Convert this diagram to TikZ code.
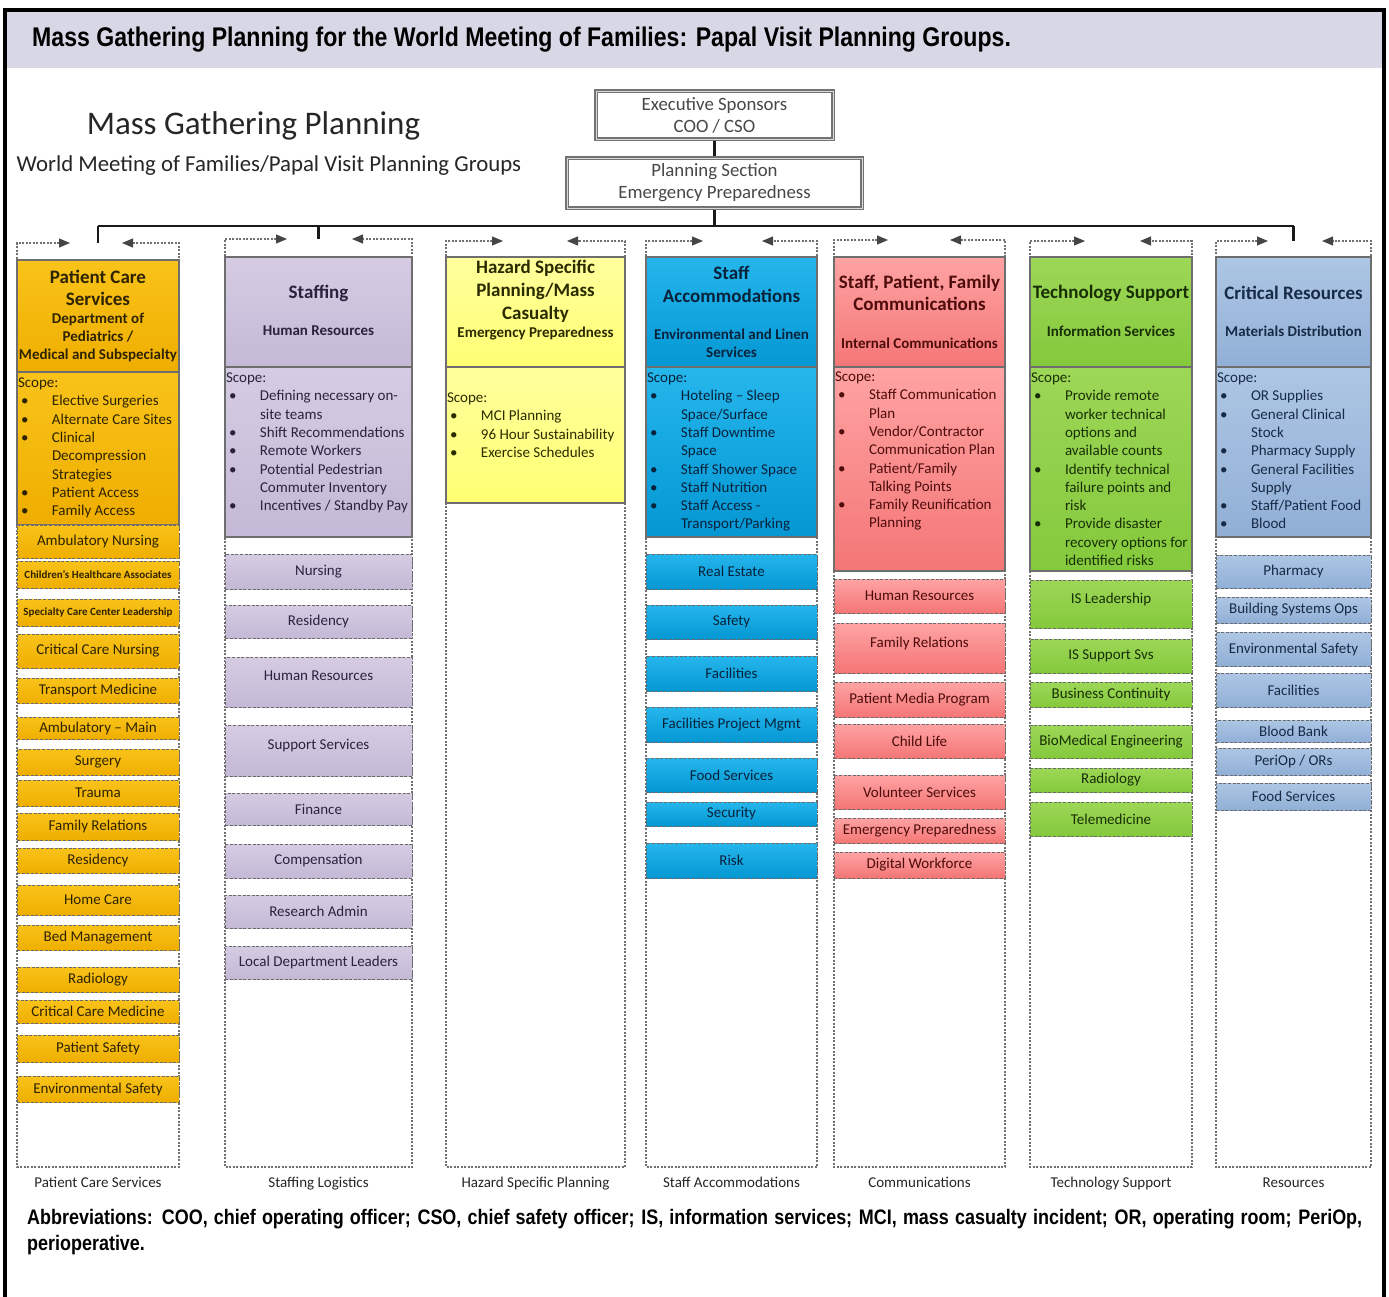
\documentclass[tikz,border=0pt]{standalone}
\usepackage{fontspec}
\setmainfont{Carlito}
\newfontfamily\condf[FakeStretch=0.855]{Liberation Sans}
\usetikzlibrary{arrows.meta,calc}

\definecolor{band}{HTML}{D7D7E6}
\definecolor{goldA}{HTML}{F9C31A}\definecolor{goldB}{HTML}{EFAE00}\definecolor{goldT}{HTML}{2E2300}
\definecolor{lavA}{HTML}{D5CCE3}\definecolor{lavB}{HTML}{C4B9D6}\definecolor{lavT}{HTML}{2C223D}
\definecolor{yelA}{HTML}{FFFF9C}\definecolor{yelB}{HTML}{FFFF73}\definecolor{yelT}{HTML}{2B2B00}
\definecolor{bluA}{HTML}{25B6EC}\definecolor{bluB}{HTML}{0497D3}\definecolor{bluT}{HTML}{08223B}
\definecolor{salA}{HTML}{FFA3A3}\definecolor{salB}{HTML}{F47676}\definecolor{salT}{HTML}{4E0C0C}
\definecolor{grnA}{HTML}{9DD757}\definecolor{grnB}{HTML}{84C93C}\definecolor{grnT}{HTML}{182F06}
\definecolor{stlA}{HTML}{ADC6E4}\definecolor{stlB}{HTML}{91AFD6}\definecolor{stlT}{HTML}{172B47}
\definecolor{hdrline}{HTML}{6E6E6E}
\definecolor{subline}{HTML}{6A6A6A}
\definecolor{frmline}{HTML}{707070}
\definecolor{tipcol}{HTML}{454545}
\definecolor{ink}{HTML}{262626}

\newcommand\scopefont{\fontsize{15}{18.3}\selectfont}
\newcommand\bu{\makebox[34pt][l]{\hspace{3pt}\textbullet}}
\newcommand\ct{\hspace*{34pt}}

% box with its top-left corner and bottom-right corner given in pixels
\newcommand\bx[7]{%
  \node[#1, anchor=north west, minimum width={#4-#3}, minimum height={#6-#5}] (#2) at (#3,#5) {#7};}

% dashed column frame whose top edge ends in two inward arrows
\newcommand\colframe[6]{%
  \node[inner sep=0pt, outer sep=0pt, anchor=north west, minimum width={#3-#2}, minimum height={1167-#4}] (#1) at (#2,#4) {};
  \draw[frm] ($(#1.north west)+(#5,0)$) -- (#1.north west) -- (#1.south west)
     -- (#1.south east) -- (#1.north east) -- ($(#1.north east)+(-#6,0)$);}

% scope list, anchored at the baseline of its first line (lines are broken by hand)
\newcommand\scopetext[5]{%
  \node[anchor=base west, inner sep=0pt, outer sep=0pt, text=#4, font=\scopefont] (#1) at (#2,#3)
    {\parbox[t]{260pt}{\raggedright #5}};}

\tikzset{
  hdrbox/.style={draw=hdrline, line width=1.2pt, inner sep=0pt, outer sep=0pt},
  subbox/.style={draw=subline, line width=0.9pt, dash pattern=on 3pt off 1.6pt,
                 inner sep=0pt, outer sep=0pt, font=\fontsize{15}{17}\selectfont},
  up/.style={text depth=12pt},
  small/.style={font=\bfseries\fontsize{11}{13}\selectfont},
  frm/.style={draw=frmline, line width=1.1pt, dash pattern=on 2.2pt off 1.3pt,
              arrows={Triangle[length=11pt,width=9pt,color=tipcol]-Triangle[length=11pt,width=9pt,color=tipcol]}},
  conn/.style={draw=black!90, line width=2.4pt},
  topbox/.style={draw=black!55, double=black!15, double distance=1pt, line width=1.3pt,
                 fill=white, align=center, text=ink!85, font=\fontsize{18.8}{22}\selectfont,
                 inner sep=0pt, outer sep=1.8pt},
  htitle/.style={font=\bfseries\fontsize{19}{22}\selectfont, align=center, inner sep=0pt},
  hsub/.style={font=\bfseries\fontsize{15}{18}\selectfont, align=center, inner sep=0pt},
  clabel/.style={font=\fontsize{15}{17}\selectfont, text=ink, inner sep=0pt, anchor=base},
  cA/.style={top color=goldA, bottom color=goldB, text=goldT},
  cB/.style={top color=lavA, bottom color=lavB, text=lavT},
  cC/.style={top color=yelA, bottom color=yelB, text=yelT},
  cD/.style={top color=bluA, bottom color=bluB, text=bluT},
  cE/.style={top color=salA, bottom color=salB, text=salT},
  cF/.style={top color=grnA, bottom color=grnB, text=grnT},
  cG/.style={top color=stlA, bottom color=stlB, text=stlT},
}

\begin{document}
\begin{tikzpicture}[x=1pt,y=-1pt]
\clip (0,0) rectangle (1389,1296);
\fill[white] (0,0) rectangle (1389,1296);

% heading band and frame
\fill[band] (5,10) rectangle (1384,68);
\draw[line width=4pt] (5,1310) -- (5,10) -- (1384,10) -- (1384,1310);
\node[anchor=base west, inner sep=0pt, font=\condf\bfseries\fontsize{27}{30}\selectfont] (title) at (32,46.5)
  {Mass Gathering Planning for the World Meeting of Families: Papal Visit Planning Groups.};

% chart heading
\node[font=\fontsize{33}{36}\selectfont, text=ink, inner sep=0pt] (mgp) at (253.5,126) {Mass Gathering Planning};
\node[font=\fontsize{22.8}{26}\selectfont, text=ink, inner sep=0pt] (wmf) at (269,166) {World Meeting of Families/Papal Visit Planning Groups};

% leadership boxes
\node[topbox, minimum width=237pt, minimum height=48pt] (exec) at (714.5,115) {Executive Sponsors\\COO / CSO};
\node[topbox, minimum width=295pt, minimum height=50pt] (plan) at (714.5,183) {Planning Section\\Emergency Preparedness};

% column frames
\colframe{f1}{17}{179}{243}{53}{57}
\colframe{f2}{225}{412}{239}{62}{60}
\colframe{f3}{446}{625}{241}{57}{58}
\colframe{f4}{646}{817}{241}{57}{55}
\colframe{f5}{834}{1005}{240}{54}{55}
\colframe{f6}{1030}{1192}{241}{55}{52}
\colframe{f7}{1216}{1371}{241}{52}{49}

% reporting lines
\coordinate (bus) at (714.5,226);
\draw[conn] (exec) -- (plan);
\draw[conn] (plan.south) -- (bus);
\draw[conn] (f1.north |- bus) -- (f7.north |- bus);
\draw[conn] (f1.north |- bus) -- (f1.north);
\draw[conn] (f2.north |- bus) -- (f2.north);
\draw[conn] (f7.north |- bus) -- (f7.north);

% ---------- Patient Care Services
\bx{hdrbox,cA}{h1}{17}{179}{260}{372}{}
\bx{hdrbox,cA}{s1}{17}{179}{372}{525}{}
\node[htitle, text=goldT] (h1t) at (98,288) {Patient Care\\Services};
\node[hsub, text=goldT] (h1s) at (98,337) {Department of\\Pediatrics /\\Medical and Subspecialty};
\scopetext{s1t}{18}{387.5}{goldT}{Scope:\\
  \bu Elective Surgeries\\ \bu Alternate Care Sites\\ \bu Clinical\\ \ct Decompression\\
  \ct Strategies\\ \bu Patient Access\\ \bu Family Access}
\bx{subbox,cA}{a1}{17}{179}{525}{558}{Ambulatory Nursing}
\bx{subbox,cA,small}{a2}{17}{179}{561}{588}{Children's Healthcare Associates}
\bx{subbox,cA,small}{a3}{17}{179}{599}{626}{Specialty Care Center Leadership}
\bx{subbox,cA}{a4}{17}{179}{634}{668}{Critical Care Nursing}
\bx{subbox,cA}{a5}{17}{179}{678}{703}{Transport Medicine}
\bx{subbox,cA}{a6}{17}{179}{717}{739}{Ambulatory – Main}
\bx{subbox,cA}{a7}{17}{179}{749}{775}{Surgery}
\bx{subbox,cA}{a8}{17}{179}{780}{806}{Trauma}
\bx{subbox,cA}{a9}{17}{179}{813}{840}{Family Relations}
\bx{subbox,cA}{a10}{17}{179}{848}{873}{Residency}
\bx{subbox,cA}{a11}{17}{179}{885}{915}{Home Care}
\bx{subbox,cA}{a12}{17}{179}{925}{950}{Bed Management}
\bx{subbox,cA}{a13}{17}{179}{967}{992}{Radiology}
\bx{subbox,cA}{a14}{17}{179}{1000}{1023}{Critical Care Medicine}
\bx{subbox,cA}{a15}{17}{179}{1035}{1062}{Patient Safety}
\bx{subbox,cA}{a16}{17}{179}{1076}{1102}{Environmental Safety}

% ---------- Staffing
\bx{hdrbox,cB}{h2}{225}{412}{257}{367}{}
\bx{hdrbox,cB}{s2}{225}{412}{367}{537}{}
\node[htitle, text=lavT] (h2t) at (318.5,293) {Staffing};
\node[hsub, text=lavT] (h2s) at (318.5,331) {Human Resources};
\scopetext{s2t}{226}{382.5}{lavT}{Scope:\\
  \bu Defining necessary on-\\ \ct site teams\\ \bu Shift Recommendations\\ \bu Remote Workers\\
  \bu Potential Pedestrian\\ \ct Commuter Inventory\\ \bu Incentives / Standby Pay}
\bx{subbox,cB}{b1}{225}{412}{554}{589}{Nursing}
\bx{subbox,cB}{b2}{225}{412}{605}{638}{Residency}
\bx{subbox,cB,up}{b3}{225}{412}{657}{707}{Human Resources}
\bx{subbox,cB,up}{b4}{225}{412}{725}{776}{Support Services}
\bx{subbox,cB}{b5}{225}{412}{793}{825}{Finance}
\bx{subbox,cB}{b6}{225}{412}{844}{878}{Compensation}
\bx{subbox,cB}{b7}{225}{412}{895}{928}{Research Admin}
\bx{subbox,cB}{b8}{225}{412}{946}{979}{Local Department Leaders}

% ---------- Hazard Specific Planning
\bx{hdrbox,cC}{h3}{446}{625}{257}{367}{}
\bx{hdrbox,cC}{s3}{446}{625}{367}{503}{}
\node[htitle, text=yelT, font=\bfseries\fontsize{19}{23}\selectfont] (h3t) at (535.5,291) {Hazard Specific\\Planning/Mass\\Casualty};
\node[hsub, text=yelT] (h3s) at (535.5,334) {Emergency Preparedness};
\scopetext{s3t}{447}{402.5}{yelT}{Scope:\\
  \bu MCI Planning\\ \bu 96 Hour Sustainability\\ \bu Exercise Schedules}

% ---------- Staff Accommodations
\bx{hdrbox,cD}{h4}{646}{817}{257}{367}{}
\bx{hdrbox,cD}{s4}{646}{817}{367}{537}{}
\node[htitle, text=bluT, font=\bfseries\fontsize{19}{23}\selectfont] (h4t) at (731.5,284.5) {Staff\\Accommodations};
\node[hsub, text=bluT] (h4s) at (731.5,343) {Environmental and Linen\\Services};
\scopetext{s4t}{647}{382.5}{bluT}{Scope:\\
  \bu Hoteling – Sleep\\ \ct Space/Surface\\ \bu Staff Downtime\\ \ct Space\\
  \bu Staff Shower Space\\ \bu Staff Nutrition\\ \bu Staff Access -\\ \ct Transport/Parking}
\bx{subbox,cD}{d1}{646}{817}{554}{589}{Real Estate}
\bx{subbox,cD}{d2}{646}{817}{605}{639}{Safety}
\bx{subbox,cD}{d3}{646}{817}{656}{691}{Facilities}
\bx{subbox,cD}{d4}{646}{817}{707}{742}{Facilities Project Mgmt}
\bx{subbox,cD}{d5}{646}{817}{758}{792}{Food Services}
\bx{subbox,cD}{d6}{646}{817}{802}{826}{Security}
\bx{subbox,cD}{d7}{646}{817}{843}{878}{Risk}

% ---------- Communications
\bx{hdrbox,cE}{h5}{834}{1005}{257}{367}{}
\bx{hdrbox,cE}{s5}{834}{1005}{367}{571}{}
\node[htitle, text=salT] (h5t) at (919.5,293) {Staff, Patient, Family\\Communications};
\node[hsub, text=salT] (h5s) at (919.5,343) {Internal Communications};
\scopetext{s5t}{835}{381.5}{salT}{Scope:\\
  \bu Staff Communication\\ \ct Plan\\ \bu Vendor/Contractor\\ \ct Communication Plan\\
  \bu Patient/Family\\ \ct Talking Points\\ \bu Family Reunification\\ \ct Planning}
\bx{subbox,cE}{e1}{834}{1005}{579}{613}{Human Resources}
\bx{subbox,cE,up}{e2}{834}{1005}{623}{673}{Family Relations}
\bx{subbox,cE}{e3}{834}{1005}{682}{717}{Patient Media Program}
\bx{subbox,cE}{e4}{834}{1005}{724}{758}{Child Life}
\bx{subbox,cE}{e5}{834}{1005}{775}{809}{Volunteer Services}
\bx{subbox,cE}{e6}{834}{1005}{818}{843}{Emergency Preparedness}
\bx{subbox,cE}{e7}{834}{1005}{852}{878}{Digital Workforce}

% ---------- Technology Support
\bx{hdrbox,cF}{h6}{1030}{1192}{257}{367}{}
\bx{hdrbox,cF}{s6}{1030}{1192}{367}{571}{}
\node[htitle, text=grnT] (h6t) at (1111,293) {Technology Support};
\node[hsub, text=grnT] (h6s) at (1111,331) {Information Services};
\scopetext{s6t}{1031}{382.5}{grnT}{Scope:\\
  \bu Provide remote\\ \ct worker technical\\ \ct options and\\ \ct available counts\\
  \bu Identify technical\\ \ct failure points and\\ \ct risk\\ \bu Provide disaster\\
  \ct recovery options for\\ \ct identified risks}
\bx{subbox,cF,up}{g1}{1030}{1192}{580}{628}{IS Leadership}
\bx{subbox,cF}{g2}{1030}{1192}{639}{673}{IS Support Svs}
\bx{subbox,cF}{g3}{1030}{1192}{682}{707}{Business Continuity}
\bx{subbox,cF}{g4}{1030}{1192}{725}{758}{BioMedical Engineering}
\bx{subbox,cF}{g5}{1030}{1192}{768}{792}{Radiology}
\bx{subbox,cF}{g6}{1030}{1192}{802}{836}{Telemedicine}

% ---------- Critical Resources
\bx{hdrbox,cG}{h7}{1216}{1371}{257}{367}{}
\bx{hdrbox,cG}{s7}{1216}{1371}{367}{537}{}
\node[htitle, text=stlT] (h7t) at (1293.5,293) {Critical Resources};
\node[hsub, text=stlT] (h7s) at (1293.5,331) {Materials Distribution};
\scopetext{s7t}{1217}{382.5}{stlT}{Scope:\\
  \bu OR Supplies\\ \bu General Clinical\\ \ct Stock\\ \bu Pharmacy Supply\\
  \bu General Facilities\\ \ct Supply\\ \bu Staff/Patient Food\\ \bu Blood}
\bx{subbox,cG}{k1}{1216}{1371}{555}{588}{Pharmacy}
\bx{subbox,cG}{k2}{1216}{1371}{597}{623}{Building Systems Ops}
\bx{subbox,cG}{k3}{1216}{1371}{632}{666}{Environmental Safety}
\bx{subbox,cG}{k4}{1216}{1371}{673}{707}{Facilities}
\bx{subbox,cG}{k5}{1216}{1371}{720}{742}{Blood Bank}
\bx{subbox,cG}{k6}{1216}{1371}{748}{775}{PeriOp / ORs}
\bx{subbox,cG}{k7}{1216}{1371}{783}{810}{Food Services}

% column captions
\node[clabel] (l1) at (98,1187) {Patient Care Services};
\node[clabel] (l2) at (318.5,1187) {Staffing Logistics};
\node[clabel] (l3) at (535.5,1187) {Hazard Specific Planning};
\node[clabel] (l4) at (731.5,1187) {Staff Accommodations};
\node[clabel] (l5) at (919.5,1187) {Communications};
\node[clabel] (l6) at (1111,1187) {Technology Support};
\node[clabel] (l7) at (1293.5,1187) {Resources};

% abbreviations
\node[anchor=base west, inner sep=0pt, font=\condf\bfseries\fontsize{21}{26}\selectfont] (abbr) at (27,1224)
  {\parbox[t]{1335pt}{Abbreviations: COO, chief operating officer; CSO, chief safety officer; IS, information services; MCI, mass casualty incident; OR, operating room; PeriOp,\linebreak perioperative.}};
\end{tikzpicture}
\end{document}
